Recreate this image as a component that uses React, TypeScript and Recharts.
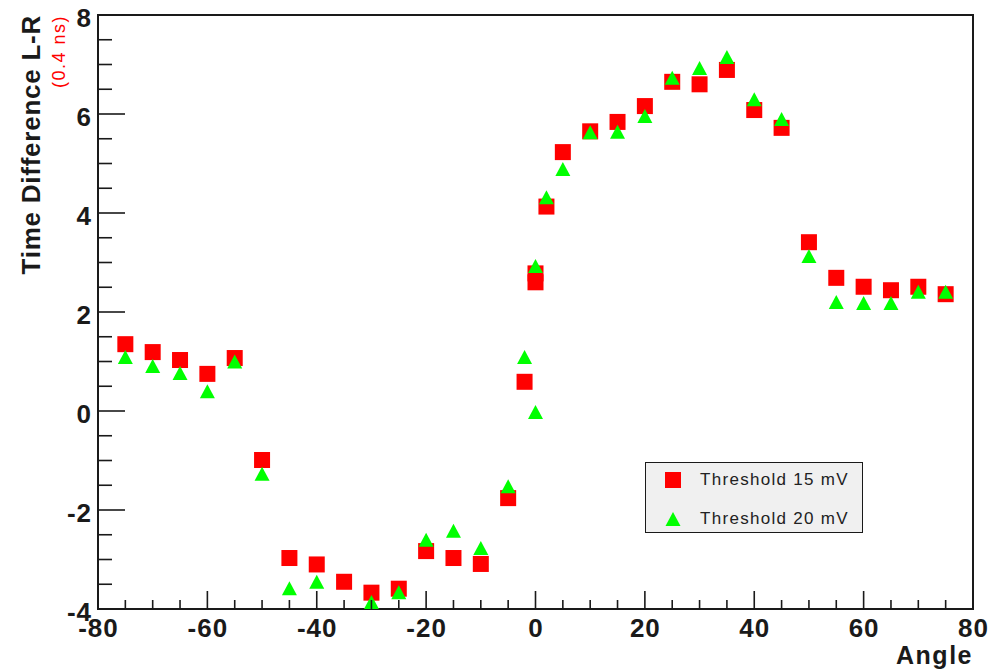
import React from "react";
import {
  ScatterChart,
  Scatter,
  XAxis,
  YAxis,
  ReferenceArea,
  Legend,
  Label,
} from "recharts";

// angle of each measurement (two runs were taken at 0)
const ANGLES = [
  -75, -70, -65, -60, -55, -50, -45, -40, -35, -30, -25, -20, -15, -10, -5,
  -2, 0, 0, 2, 5, 10, 15, 20, 25, 30, 35, 40, 45, 50, 55, 60, 65, 70, 75,
];

const THRESHOLD_15 = [
  1.35, 1.19, 1.03, 0.75, 1.07, -0.99, -2.97, -3.1, -3.45, -3.67, -3.59, -2.83,
  -2.97, -3.09, -1.76, 0.59, 2.78, 2.6, 4.13, 5.23, 5.65, 5.84, 6.16, 6.65,
  6.6, 6.89, 6.08, 5.72, 3.41, 2.69, 2.51, 2.44, 2.51, 2.36,
];

const THRESHOLD_20: (number | null)[] = [
  1.09, 0.91, 0.77, 0.4, 1.0, -1.27, -3.58, -3.45, null, -3.86, -3.66, -2.6,
  -2.42, -2.77, -1.52, 1.09, 2.93, -0.02, 4.32, 4.89, 5.63, 5.64, 5.96, 6.73,
  6.93, 7.15, 6.3, 5.9, 3.13, 2.2, 2.18, 2.18, 2.41, 2.41,
];

const X_MAJOR = [-80, -60, -40, -20, 0, 20, 40, 60, 80];
const Y_MAJOR = [-4, -2, 0, 2, 4, 6, 8];

const SERIES_NAMES = ["Threshold 15 mV", "Threshold 20 mV"];
const RED = "#ff0000";
const GREEN = "#00ff00";
const INK = "#1a1a1a";
const FONT = "'Liberation Sans', Arial, Helvetica, sans-serif";

// minor ticks every 5 on x and every 0.5 on y
const X_TICKS: number[] = [];
for (let v = -80; v <= 80; v += 5) X_TICKS.push(v);
const Y_TICKS: number[] = [];
for (let v = -4; v <= 8; v += 0.5) Y_TICKS.push(v);

const redData = ANGLES.map((a, i) => ({ x: a, y: THRESHOLD_15[i] }));
const greenData = ANGLES.map((a, i) => ({ x: a, y: THRESHOLD_20[i] })).filter(
  (d) => d.y !== null
);

const Square = (props: any) => {
  const { cx, cy } = props;
  if (cx == null || cy == null) return null;
  return <rect x={cx - 8} y={cy - 8} width={16} height={16} fill={RED} />;
};

const Triangle = (props: any) => {
  const { cx, cy } = props;
  if (cx == null || cy == null) return null;
  return (
    <polygon
      points={`${cx},${cy - 7} ${cx - 7.5},${cy + 7} ${cx + 7.5},${cy + 7}`}
      fill={GREEN}
    />
  );
};

const XTick = (props: any) => {
  const { x, y, payload } = props;
  const major = X_MAJOR.includes(payload.value);
  return (
    <g>
      <line x1={x} y1={y} x2={x} y2={y - (major ? 18 : 9)} stroke={INK} strokeWidth={1.6} />
      {major && (
        <text
          x={x + 0.5}
          y={y + 28}
          textAnchor="middle"
          fontFamily={FONT}
          fontWeight="bold"
          fontSize={26}
          fill={INK}
          style={{ letterSpacing: 1 }}
        >
          {payload.value}
        </text>
      )}
    </g>
  );
};

const YTick = (props: any) => {
  const { x, y, payload } = props;
  const major = Y_MAJOR.includes(payload.value);
  return (
    <g>
      <line x1={x} y1={y} x2={x + (major ? 27 : 14)} y2={y} stroke={INK} strokeWidth={1.6} />
      {major && (
        <text
          x={x - 6}
          y={y + 12}
          textAnchor="end"
          fontFamily={FONT}
          fontWeight="bold"
          fontSize={26}
          fill={INK}
          style={{ letterSpacing: 1 }}
        >
          {payload.value}
        </text>
      )}
    </g>
  );
};

const LegendBox = () => (
  <div
    style={{
      position: "relative",
      width: 218,
      height: 71,
      boxSizing: "border-box",
      border: `1.5px solid ${INK}`,
      background: "#f0f0f0",
      fontFamily: FONT,
      fontSize: 17,
      letterSpacing: 1.3,
      color: "#222",
    }}
  >
    {SERIES_NAMES.map((name, i) => (
      <div
        key={name}
        style={{ position: "absolute", left: 0, top: i === 0 ? 6 : 45, height: 22, width: "100%" }}
      >
        <svg width={30} height={22} style={{ position: "absolute", left: 12, top: 0 }}>
          {i === 0 ? (
            <rect x={7} y={3} width={16} height={16} fill={RED} />
          ) : (
            <polygon points="15,4 7.5,18 22.5,18" fill={GREEN} />
          )}
        </svg>
        <span style={{ position: "absolute", left: 54, top: 0, lineHeight: "22px", whiteSpace: "nowrap" }}>
          {name}
        </span>
      </div>
    ))}
  </div>
);

export default function App() {
  return (
    <div style={{ position: "absolute", left: 0, top: 0, width: 998, height: 672, background: "#fff" }}>
      <ScatterChart
        width={998}
        height={672}
        margin={{ top: 15, right: 25, bottom: 0, left: 0 }}
      >
        <XAxis
          type="number"
          dataKey="x"
          domain={[-80, 80]}
          ticks={X_TICKS}
          interval={0}
          tickSize={0}
          tickMargin={0}
          axisLine={false}
          tickLine={false}
          tick={<XTick />}
          height={63}
          allowDataOverflow
        >
          <Label
            content={(p: any) => {
              const vb = p.viewBox;
              return (
                <text
                  x={vb.x + vb.width}
                  y={vb.y + 55}
                  textAnchor="end"
                  fontFamily={FONT}
                  fontWeight="bold"
                  fontSize={25}
                  fill={INK}
                  style={{ letterSpacing: 1.5 }}
                >
                  Angle
                </text>
              );
            }}
          />
        </XAxis>
        <YAxis
          type="number"
          dataKey="y"
          domain={[-4, 8]}
          ticks={Y_TICKS}
          interval={0}
          tickSize={0}
          tickMargin={0}
          axisLine={false}
          tickLine={false}
          tick={<YTick />}
          width={98}
          allowDataOverflow
        >
          <Label
            content={(p: any) => {
              const vb = p.viewBox;
              const top = vb.y;
              return (
                <g>
                  <text
                    x={40}
                    y={top}
                    transform={`rotate(-90, 40, ${top})`}
                    textAnchor="end"
                    fontFamily={FONT}
                    fontWeight="bold"
                    fontSize={26}
                    fill={INK}
                    style={{ letterSpacing: 0.75 }}
                  >
                    Time Difference L-R
                  </text>
                  <text
                    x={65}
                    y={top}
                    transform={`rotate(-90, 65, ${top})`}
                    textAnchor="end"
                    fontFamily={FONT}
                    fontSize={18}
                    fill={RED}
                    style={{ letterSpacing: 1.5 }}
                  >
                    (0.4 ns)
                  </text>
                </g>
              );
            }}
          />
        </YAxis>
        <ReferenceArea
          x1={-80}
          x2={80}
          y1={-4}
          y2={8}
          fill="none"
          fillOpacity={0}
          stroke={INK}
          strokeWidth={2}
          ifOverflow="visible"
        />
        <Scatter
          name={SERIES_NAMES[0]}
          data={redData}
          fill={RED}
          shape={Square}
          isAnimationActive={false}
        />
        <Scatter
          name={SERIES_NAMES[1]}
          data={greenData}
          fill={GREEN}
          shape={Triangle}
          isAnimationActive={false}
        />
        <Legend
          layout="vertical"
          align="center"
          verticalAlign="middle"
          content={() => <LegendBox />}
          wrapperStyle={{ position: "absolute", left: 645, top: 462, width: 218, height: 71 }}
        />
      </ScatterChart>
    </div>
  );
}
